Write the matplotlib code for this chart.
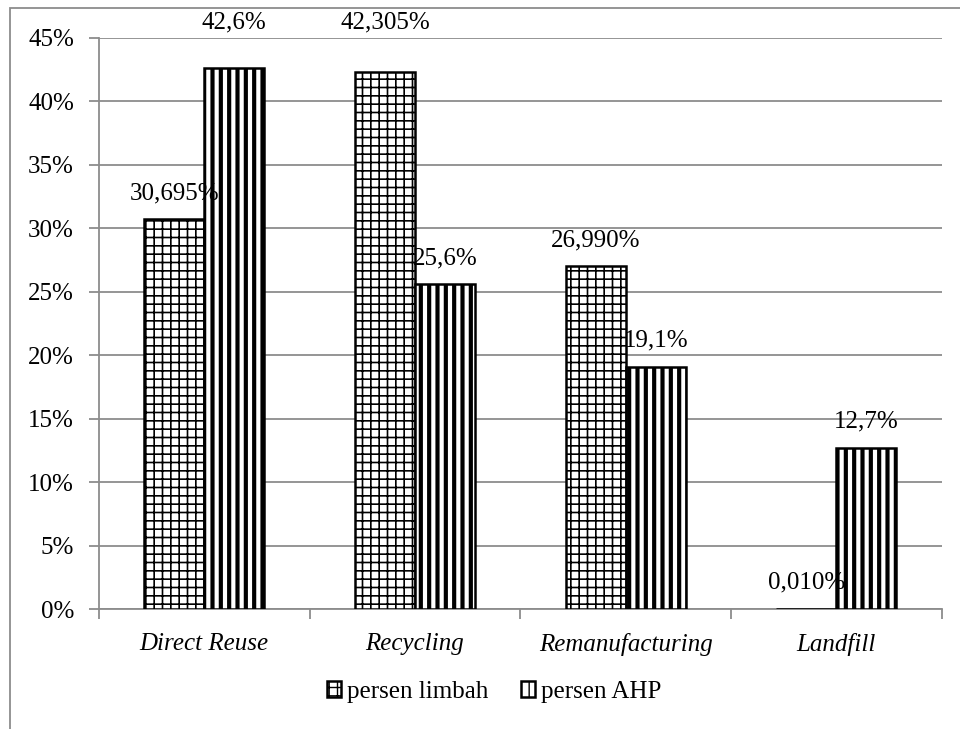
import numpy as np
import matplotlib.pyplot as plt
from matplotlib.patches import Rectangle

# data
kategori = ['Direct Reuse', 'Recycling', 'Remanufacturing', 'Landfill']
persen_limbah = [30.695, 42.305, 26.990, 0.010]
persen_ahp = [42.6, 25.6, 19.1, 12.7]
label_limbah = ['30,695%', '42,305%', '26,990%', '0,010%']
label_ahp = ['42,6%', '25,6%', '19,1%', '12,7%']

plt.rcParams['font.family'] = ['Liberation Serif', 'DejaVu Serif']
fs = 18

fig = plt.figure(figsize=(9.6, 7.29), dpi=100)
ax = fig.add_axes([0.103, 0.1646, 0.878, 0.7834])

# rahmen luar chart
fig.patches.append(Rectangle((10 / 960, -0.2), 1.2, 1.2 - 8 / 729,
                             transform=fig.transFigure, fill=False,
                             edgecolor='#8c8c8c', linewidth=1.3))

x = np.arange(len(kategori))
w = 0.285

b1 = ax.bar(x - w / 2, persen_limbah, width=w, color='white',
            edgecolor='black', linewidth=1.8, hatch='++',
            label='persen limbah', zorder=3)
b2 = ax.bar(x + w / 2, persen_ahp, width=w, color='white',
            edgecolor='black', linewidth=1.8, hatch='||',
            label='persen AHP', zorder=3)
for p in b1:
    if hasattr(p, 'set_hatch_linewidth'):
        p.set_hatch_linewidth(1.2)
for p in b2:
    if hasattr(p, 'set_hatch_linewidth'):
        p.set_hatch_linewidth(3.0)

# label di atas batang; yang terlalu tinggi dipindah ke atas area plot
for bars, labels in [(b1, label_limbah), (b2, label_ahp)]:
    for bar, lab in zip(bars, labels):
        y = bar.get_height() + 2.05
        if y > 43:
            y = 46.25
        ax.text(bar.get_x() + bar.get_width() / 2, y, lab,
                ha='center', va='center', fontsize=fs, zorder=4, clip_on=False)

ax.set_xlim(-0.5, 3.5)
ax.set_ylim(0, 45)
ax.set_yticks(np.arange(0, 46, 5))
ax.set_yticklabels([f'{v}%' for v in range(0, 46, 5)], fontsize=fs)
ax.set_xticks(x)
ax.set_xticklabels(kategori, fontsize=fs, style='italic')
ax.set_xticks(np.arange(-0.5, 4, 1), minor=True)
ax.tick_params(axis='x', which='major', length=0, pad=17)
ax.tick_params(axis='x', which='minor', length=7, color='#8c8c8c', width=1.3)
ax.tick_params(axis='y', length=7, color='#8c8c8c', width=1.3, pad=11)

ax.grid(axis='y', color='#8c8c8c', linewidth=1.3, zorder=0)
ax.set_axisbelow(True)
for s in ['top', 'right']:
    ax.spines[s].set_visible(False)
for s in ['left', 'bottom']:
    ax.spines[s].set_color('#8c8c8c')
    ax.spines[s].set_linewidth(1.3)

fig.legend(handles=[b1, b2], loc='center', bbox_to_anchor=(0.515, 0.051),
           ncol=2, frameon=False, fontsize=fs, handlelength=0.55,
           handleheight=0.55, handletextpad=0.25, columnspacing=1.3)

fig.savefig('out.png', dpi=100)
